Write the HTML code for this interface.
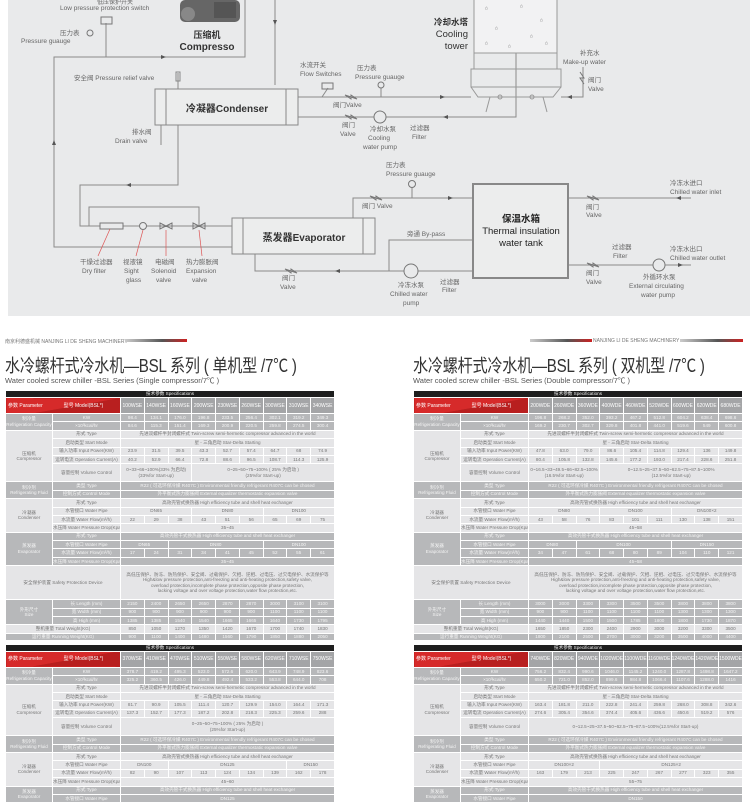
<!DOCTYPE html>
<html><head><meta charset="utf-8"><style>
*{margin:0;padding:0;box-sizing:border-box}
body{width:750px;height:794px;overflow:hidden;background:#fff;position:relative;font-family:"Liberation Sans","Noto Sans CJK SC",sans-serif}
#dg{position:absolute;left:0;top:0}
.hdr{position:absolute;font-size:5px;color:#777;white-space:nowrap}
.bar{position:absolute;height:3px;background:linear-gradient(90deg,#ccc,#555 60%,#c22)}
.t1{position:absolute;font-size:18px;color:#333;white-space:nowrap;letter-spacing:-0.3px;transform:scaleX(0.84);transform-origin:0 0}
.t2{position:absolute;font-size:7.5px;color:#555;white-space:nowrap}
table{position:absolute;border-collapse:collapse;table-layout:fixed;width:330px;font-size:4.6px;color:#777;text-align:center}
td{border:1px solid #fff;padding:0;line-height:6px;overflow:hidden;white-space:nowrap;height:8.4px}
tr.d td{background:#b7b8ba;color:#f4f4f4}
tr.l td{background:#e5e5e7}
tr.k td{background:#1e1e1e;color:#eee;height:7px}
tr.r td{background:#a4a5a7;color:#fff;height:16px;font-size:5px}
tr.r td.red{background:linear-gradient(170deg,#d62a2a 55%,#b81f1f 56%);text-align:left;padding-left:2px}
td.g{white-space:normal;line-height:5.5px}
</style></head><body>
<svg id="dg" width="750" height="320" viewBox="0 0 750 320" font-family="Liberation Sans, Noto Sans CJK SC, sans-serif">
<rect x="8" y="0" width="742" height="316" fill="#e9eaeb"/>
<g stroke="#8a8a8a" stroke-width="1" fill="none">
<polyline points="245,0 245,57 54,57 54,247 232,247"/>
<line x1="106" y1="57" x2="106" y2="23"/>
<line x1="275" y1="0" x2="275" y2="85"/>
<polyline points="298,97 471,97"/>
<polyline points="561,97 583,97 583,67"/>
<polyline points="298,117 516,117 516,0"/>
<line x1="322" y1="97" x2="328" y2="88"/>
<line x1="381" y1="97" x2="381" y2="88"/>
<polyline points="178,125 178,185 80,185 80,226 232,226"/>
<polyline points="89,226 89,207 199,207 199,226"/>
<polyline points="353,218 353,198 473,198"/>
<line x1="412" y1="198" x2="412" y2="187"/>
<polyline points="255,254 255,271 473,271"/>
<polyline points="389,271 389,240 473,240"/>
<line x1="568" y1="198" x2="691" y2="198"/>
<line x1="568" y1="265" x2="691" y2="265"/>
<line x1="178" y1="73" x2="178" y2="89"/>
<line x1="161" y1="125" x2="161" y2="145"/>
</g>
<g fill="#666"><rect x="180" y="0" width="60" height="22" rx="5"/><circle cx="188" cy="14" r="7" fill="#888"/><rect x="214" y="2" width="22" height="16" fill="#555"/></g>
<text x="207" y="38" font-size="9" font-weight="bold" fill="#333" text-anchor="middle">压缩机</text>
<text x="207" y="50" font-size="10" font-weight="bold" fill="#333" text-anchor="middle">Compresso</text>
<text x="115" y="4" font-size="6" fill="#666" text-anchor="middle">低压保护开关</text>
<text x="60" y="10" font-size="6.5" fill="#666">Low pressure protection switch</text>
<rect x="101" y="17" width="11" height="7" fill="none" stroke="#777"/>
<text x="60" y="35" font-size="6.5" fill="#666">压力表</text><circle cx="90" cy="33" r="3" fill="none" stroke="#777"/>
<text x="21" y="43" font-size="6.5" fill="#666">Pressure guauge</text>
<g fill="none" stroke="#999"><rect x="474" y="-2" width="83" height="55" fill="#f2f2f3"/><rect x="471" y="69" width="90" height="18"/><polyline points="471,87 478,97 553,97 561,87"/><line x1="474" y1="53" x2="474" y2="69"/><line x1="557" y1="53" x2="557" y2="69"/><line x1="490" y1="97" x2="486" y2="112"/><line x1="543" y1="97" x2="547" y2="112"/><circle cx="500" cy="97" r="2"/><circle cx="532" cy="97" r="2"/></g>
<g fill="#aaa" font-size="5"><text x="485" y="10">ó</text><text x="520" y="8">ó</text><text x="540" y="22">ó</text><text x="495" y="30">ó</text><text x="530" y="38">ó</text><text x="485" y="45">ó</text><text x="508" y="48">ó</text><text x="545" y="45">ó</text></g>
<text x="468" y="25" font-size="8.5" fill="#333" text-anchor="end" font-weight="bold">冷却水塔</text>
<text x="468" y="37" font-size="9.5" fill="#333" text-anchor="end">Cooling</text>
<text x="468" y="49" font-size="9.5" fill="#333" text-anchor="end">tower</text>
<text x="580" y="55" font-size="6.5" fill="#666">补充水</text>
<text x="563" y="64" font-size="6.5" fill="#666">Make-up water</text>
<text x="588" y="82" font-size="6.5" fill="#666">阀门</text><text x="588" y="91" font-size="6.5" fill="#666">Valve</text>
<rect x="155" y="89" width="143" height="36" fill="#eceded" stroke="#888"/>
<line x1="166" y1="89" x2="166" y2="125" stroke="#888"/><line x1="286" y1="89" x2="286" y2="125" stroke="#888"/>
<text x="227" y="112" font-size="10" fill="#333" text-anchor="middle" font-weight="bold">冷凝器Condenser</text>
<text x="74" y="80" font-size="6.5" fill="#666">安全阀 Pressure relief valve</text>
<rect x="176" y="72" width="4" height="9" fill="none" stroke="#888"/>
<text x="300" y="67" font-size="6.5" fill="#666">水流开关</text><text x="300" y="76" font-size="6.5" fill="#666">Flow Switches</text>
<rect x="322" y="83" width="11" height="6" fill="none" stroke="#777"/>
<text x="357" y="70" font-size="6.5" fill="#666">压力表</text><text x="355" y="79" font-size="6.5" fill="#666">Pressure guauge</text>
<circle cx="381" cy="85" r="3" fill="none" stroke="#777"/>
<text x="333" y="107" font-size="6.5" fill="#666">阀门Valve</text>
<text x="342" y="127" font-size="6.5" fill="#666">阀门</text><text x="340" y="136" font-size="6.5" fill="#666">Valve</text>
<circle cx="380" cy="117" r="6" fill="#e9eaeb" stroke="#777"/>
<text x="370" y="131" font-size="6.5" fill="#666">冷却水泵</text><text x="368" y="140" font-size="6.5" fill="#666">Cooling</text><text x="363" y="149" font-size="6.5" fill="#666">water pump</text>
<text x="410" y="130" font-size="6.5" fill="#666">过滤器</text><text x="412" y="139" font-size="6.5" fill="#666">Filter</text>
<text x="132" y="134" font-size="6.5" fill="#666">排水阀</text><text x="115" y="143" font-size="6.5" fill="#666">Drain valve</text>
<g fill="#555"><path d="M440,95 l5,2 -5,2z"/><path d="M448,115 l-5,2 5,2z"/><path d="M572,95 l-5,2 5,2z"/><path d="M52,145 l2,-5 2,5z"/><path d="M131,183 l-5,2 5,2z"/><path d="M161,55 l5,2 -5,2z"/><path d="M273,20 l2,5 2,-5z"/><path d="M448,196 l5,2 -5,2z"/><path d="M681,196 l-5,2 5,2z"/><path d="M340,269 l-5,2 5,2z"/><path d="M678,263 l5,2 -5,2z"/></g>
<g fill="none" stroke="#777"><path d="M345,95 l6,4 0,-4 6,4z"/><path d="M345,115 l6,4 0,-4 6,4z"/><path d="M370,196 l6,4 0,-4 6,4z"/><path d="M587,196 l6,4 0,-4 6,4z"/><path d="M587,263 l6,4 0,-4 6,4z"/><path d="M285,269 l6,4 0,-4 6,4z"/><path d="M580,72 l4,6 -4,0 4,6"/></g>
<rect x="232" y="218" width="143" height="36" fill="#eceded" stroke="#888"/>
<line x1="243" y1="218" x2="243" y2="254" stroke="#888"/><line x1="363" y1="218" x2="363" y2="254" stroke="#888"/>
<text x="304" y="241" font-size="10" fill="#333" text-anchor="middle" font-weight="bold">蒸发器Evaporator</text>
<text x="386" y="167" font-size="6.5" fill="#666">压力表</text><text x="386" y="176" font-size="6.5" fill="#666">Pressure guauge</text>
<circle cx="412" cy="184" r="3.5" fill="none" stroke="#777"/>
<text x="362" y="208" font-size="6.5" fill="#666">阀门 Valve</text>
<rect x="473" y="184" width="95" height="94" fill="#eceded" stroke="#888" stroke-width="2"/>
<text x="521" y="222" font-size="9.5" fill="#222" text-anchor="middle" font-weight="bold">保温水箱</text>
<text x="521" y="234" font-size="9.5" fill="#222" text-anchor="middle">Thermal insulation</text>
<text x="521" y="246" font-size="9.5" fill="#222" text-anchor="middle">water tank</text>
<text x="670" y="185" font-size="6.5" fill="#666">冷冻水进口</text><text x="670" y="194" font-size="6.5" fill="#666">Chilled water inlet</text>
<text x="586" y="209" font-size="6.5" fill="#666">阀门</text><text x="586" y="217" font-size="6.5" fill="#666">Valve</text>
<text x="407" y="236" font-size="6.5" fill="#666">旁通 By-pass</text>
<text x="612" y="249" font-size="6.5" fill="#666">过滤器</text><text x="613" y="258" font-size="6.5" fill="#666">Filter</text>
<text x="670" y="251" font-size="6.5" fill="#666">冷冻水出口</text><text x="670" y="260" font-size="6.5" fill="#666">Chilled water outlet</text>
<circle cx="659" cy="265" r="6" fill="#e9eaeb" stroke="#777"/>
<text x="643" y="279" font-size="6.5" fill="#666">外循环水泵</text><text x="629" y="288" font-size="6.5" fill="#666">External circulating</text><text x="641" y="297" font-size="6.5" fill="#666">water pump</text>
<text x="586" y="275" font-size="6.5" fill="#666">阀门</text><text x="586" y="284" font-size="6.5" fill="#666">Valve</text>
<circle cx="411" cy="271" r="7" fill="#e9eaeb" stroke="#777"/>
<text x="398" y="287" font-size="6.5" fill="#666">冷冻水泵</text><text x="390" y="296" font-size="6.5" fill="#666">Chilled water</text><text x="403" y="305" font-size="6.5" fill="#666">pump</text>
<text x="440" y="284" font-size="6.5" fill="#666">过滤器</text><text x="442" y="292" font-size="6.5" fill="#666">Filter</text>
<text x="282" y="280" font-size="6.5" fill="#666">阀门</text><text x="280" y="289" font-size="6.5" fill="#666">Valve</text>
<rect x="100" y="223" width="23" height="6" fill="#e9eaeb" stroke="#777"/>
<circle cx="143" cy="226" r="3.5" fill="#e9eaeb" stroke="#777"/>
<path d="M160,223 l6,3 -6,3z M172,223 l-6,3 6,3z M193,223 l6,3 -6,3z M205,223 l-6,3 6,3z" fill="none" stroke="#777"/>
<g stroke="#d55" stroke-width="0.7"><line x1="110" y1="229" x2="98" y2="256"/><line x1="143" y1="230" x2="136" y2="256"/><line x1="166" y1="230" x2="166" y2="256"/><line x1="199" y1="230" x2="202" y2="256"/></g>
<g font-size="6.5" fill="#666"><text x="80" y="264">干燥过滤器</text><text x="82" y="273">Dry filter</text>
<text x="123" y="264">视液镜</text><text x="124" y="273">Sight</text><text x="126" y="282">glass</text>
<text x="155" y="264">电磁阀</text><text x="151" y="273">Solenoid</text><text x="156" y="282">valve</text>
<text x="186" y="264">热力膨胀阀</text><text x="186" y="273">Expansion</text><text x="192" y="282">valve</text></g>
</svg>

<div class="hdr" style="left:5px;top:338px">南京利德盛机械 NANJING LI DE SHENG MACHINERY</div>
<div class="bar" style="left:125px;top:339px;width:62px"></div>
<div class="bar" style="left:530px;top:339px;width:62px"></div>
<div class="hdr" style="left:593px;top:338px">NANJING LI DE SHENG MACHINERY</div>
<div class="bar" style="left:680px;top:339px;width:63px"></div>
<div class="t1" style="left:5px;top:352px">水冷螺杆式冷水机—BSL 系列 ( 单机型 /7℃ )</div>
<div class="t2" style="left:5px;top:375px">Water cooled screw chiller -BSL Series (Single compressor/7℃ )</div>
<div class="t1" style="left:413px;top:352px">水冷螺杆式冷水机—BSL 系列 ( 双机型 /7℃ )</div>
<div class="t2" style="left:413px;top:375px">Water cooled screw chiller -BSL Series (Double compressor/7℃ )</div>

<table style="left:5px;top:390px">
<colgroup><col style="width:47px"><col style="width:68px"><col span="9"></colgroup>
<tr class="k"><td colspan="11">技术参数 Specifications</td></tr>
<tr class="r"><td class="red" colspan="2">参数 Parameter &nbsp;&nbsp;&nbsp;&nbsp;&nbsp;&nbsp;&nbsp;&nbsp;&nbsp;&nbsp;&nbsp;&nbsp;&nbsp;&nbsp;型号 Model(BSL*)</td><td>100WSE</td><td>140WSE</td><td>160WSE</td><td>200WSE</td><td>230WSE</td><td>260WSE</td><td>300WSE</td><td>310WSE</td><td>340WSE</td></tr>
<tr class="d"><td rowspan="2" class="g">制冷量<br>Refrigeration Capacity</td><td>KW</td><td>98.4</td><td>134.1</td><td>176.0</td><td>196.8</td><td>233.5</td><td>256.4</td><td>302.1</td><td>319.2</td><td>349.3</td></tr>
<tr class="d"><td>×10³kcal/hr</td><td>84.6</td><td>115.3</td><td>151.4</td><td>169.3</td><td>200.9</td><td>220.5</td><td>259.8</td><td>274.5</td><td>300.4</td></tr>
<tr class="l"><td rowspan="5" class="g">压缩机<br>Compressor</td><td>形式 Type</td><td colspan="9">先进双螺杆半封闭螺杆式 Twin-screw semi-hermetic compressor advanced in the world</td></tr>
<tr class="l"><td>启动类型 Start Mode</td><td colspan="9">星 - 三角启动 Star-Delta Starting</td></tr>
<tr class="l"><td>输入功率 Input Power(KW)</td><td>23.9</td><td>31.5</td><td>39.5</td><td>43.3</td><td>52.7</td><td>57.4</td><td>64.7</td><td>68</td><td>74.9</td></tr>
<tr class="l"><td>运转电流 Operation Current(A)</td><td>40.2</td><td>52.9</td><td>66.4</td><td>72.8</td><td>88.6</td><td>96.5</td><td>108.7</td><td>114.3</td><td>125.9</td></tr>
<tr class="l"><td style="height:18px">容量控制 Volume Control</td><td colspan="3" class="g">0~33~66~100%(33% 为启动)<br>(33%for Start-up)</td><td colspan="6" class="g">0~25~50~75~100% ( 25% 为启动 )<br>(25%for Start-up)</td></tr>
<tr class="d"><td rowspan="2" class="g">制冷剂<br>Refrigerating Fluid</td><td>类型 Type</td><td colspan="9">R22 ( 可选环保冷媒 R407C ) Environmental friendly refrigerant R407C can be chosed</td></tr>
<tr class="d"><td>控制方式 Control Mode</td><td colspan="9">外平衡式热力膨胀阀 External equalizer thermostatic expansion valve</td></tr>
<tr class="l"><td rowspan="4" class="g">冷凝器<br>Condenser</td><td>形式 Type</td><td colspan="9">高效壳管式换热器 High efficiency tube and shell heat exchanger</td></tr>
<tr class="l"><td>水管接口 Water Pipe</td><td colspan="3">DN65</td><td colspan="3">DN80</td><td colspan="3">DN100</td></tr>
<tr class="l"><td>水流量 Water Flow(m³/h)</td><td>22</td><td>29</td><td>38</td><td>43</td><td>51</td><td>56</td><td>65</td><td>69</td><td>75</td></tr>
<tr class="l"><td>水压降 Water Pressure Drop(Kpa)</td><td colspan="9">35~45</td></tr>
<tr class="d"><td rowspan="4" class="g">蒸发器<br>Evaporator</td><td>形式 Type</td><td colspan="9">高效壳管干式换热器 High efficiency tube and shell heat exchanger</td></tr>
<tr class="d"><td>水管接口 Water Pipe</td><td colspan="2">DN65</td><td colspan="4">DN80</td><td colspan="3">DN100</td></tr>
<tr class="d"><td>水流量 Water Flow(m³/h)</td><td>17</td><td>24</td><td>31</td><td>34</td><td>41</td><td>45</td><td>52</td><td>55</td><td>61</td></tr>
<tr class="d"><td>水压降 Water Pressure Drop(Kpa)</td><td colspan="9">35~45</td></tr>
<tr class="l"><td colspan="2" style="height:34px">安全保护装置 Safety Protection Device</td><td colspan="9" class="g">高低压保护、防冻、防热保护、安全阀、过载保护、欠相、逆相、过电压、过欠电保护、水流保护等<br>High&amp;low pressure protection,anti-freezing and anti-heating protection,safety valve,<br>overload protection,incomplete phase protection,opposite phase protection,<br>lacking voltage and over voltage protection,water flow protection,etc.</td></tr>
<tr class="d"><td rowspan="3" class="g">外形尺寸<br>Size</td><td>长 Length (mm)</td><td>2150</td><td>2400</td><td>2650</td><td>2650</td><td>2870</td><td>2870</td><td>3000</td><td>3100</td><td>3100</td></tr>
<tr class="d"><td>宽 Width (mm)</td><td>900</td><td>900</td><td>900</td><td>900</td><td>900</td><td>900</td><td>1100</td><td>1100</td><td>1100</td></tr>
<tr class="d"><td>高 High (mm)</td><td>1385</td><td>1385</td><td>1540</td><td>1540</td><td>1665</td><td>1665</td><td>1640</td><td>1730</td><td>1795</td></tr>
<tr class="l"><td colspan="2">整机重量 Total Weight(KG)</td><td>850</td><td>1050</td><td>1270</td><td>1350</td><td>1420</td><td>1670</td><td>1700</td><td>1740</td><td>1830</td></tr>
<tr class="d"><td colspan="2">运行重量 Running Weight(KG)</td><td>900</td><td>1100</td><td>1400</td><td>1480</td><td>1560</td><td>1790</td><td>1850</td><td>1880</td><td>2050</td></tr>
<tr class="k"><td colspan="11" style="border-top:5px solid #fff">技术参数 Specifications</td></tr>
<tr class="r"><td class="red" colspan="2">参数 Parameter &nbsp;&nbsp;&nbsp;&nbsp;&nbsp;&nbsp;&nbsp;&nbsp;&nbsp;&nbsp;&nbsp;&nbsp;&nbsp;&nbsp;型号 Model(BSL*)</td><td>370WSE</td><td>410WSE</td><td>470WSE</td><td>510WSE</td><td>550WSE</td><td>580WSE</td><td>620WSE</td><td>710WSE</td><td>750WSE</td></tr>
<tr class="d"><td rowspan="2" class="g">制冷量<br>Refrigeration Capacity</td><td>KW</td><td>378.7</td><td>419.2</td><td>495.3</td><td>523.0</td><td>572.6</td><td>620.0</td><td>643.9</td><td>748.9</td><td>823.6</td></tr>
<tr class="d"><td>×10³kcal/hr</td><td>325.2</td><td>360.5</td><td>426.0</td><td>449.8</td><td>492.4</td><td>533.2</td><td>553.8</td><td>644.0</td><td>708</td></tr>
<tr class="l"><td rowspan="5" class="g">压缩机<br>Compressor</td><td>形式 Type</td><td colspan="9">先进双螺杆半封闭螺杆式 Twin-screw semi-hermetic compressor advanced in the world</td></tr>
<tr class="l"><td>启动类型 Start Mode</td><td colspan="9">星 - 三角启动 Star-Delta Starting</td></tr>
<tr class="l"><td>输入功率 Input Power(KW)</td><td>81.7</td><td>90.9</td><td>105.5</td><td>111.4</td><td>120.7</td><td>129.9</td><td>154.0</td><td>164.4</td><td>171.3</td></tr>
<tr class="l"><td>运转电流 Operation Current(A)</td><td>137.3</td><td>152.7</td><td>177.3</td><td>187.2</td><td>202.8</td><td>218.3</td><td>225.3</td><td>259.6</td><td>288</td></tr>
<tr class="l"><td style="height:18px">容量控制 Volume Control</td><td colspan="9" class="g">0~25~50~75~100% ( 25% 为启动 )<br>(25%for Start-up)</td></tr>
<tr class="d"><td rowspan="2" class="g">制冷剂<br>Refrigerating Fluid</td><td>类型 Type</td><td colspan="9">R22 ( 可选环保冷媒 R407C ) Environmental friendly refrigerant R407C can be chosed</td></tr>
<tr class="d"><td>控制方式 Control Mode</td><td colspan="9">外平衡式热力膨胀阀 External equalizer thermostatic expansion valve</td></tr>
<tr class="l"><td rowspan="4" class="g">冷凝器<br>Condenser</td><td>形式 Type</td><td colspan="9">高效壳管式换热器 High efficiency tube and shell heat exchanger</td></tr>
<tr class="l"><td>水管接口 Water Pipe</td><td colspan="2">DN100</td><td colspan="5">DN125</td><td colspan="2">DN150</td></tr>
<tr class="l"><td>水流量 Water Flow(m³/h)</td><td>82</td><td>90</td><td>107</td><td>113</td><td>124</td><td>134</td><td>139</td><td>162</td><td>178</td></tr>
<tr class="l"><td>水压降 Water Pressure Drop(Kpa)</td><td colspan="9">45~60</td></tr>
<tr class="d"><td rowspan="2" class="g">蒸发器<br>Evaporator</td><td>形式 Type</td><td colspan="9">高效壳管干式换热器 High efficiency tube and shell heat exchanger</td></tr>
<tr class="d"><td>水管接口 Water Pipe</td><td colspan="9">DN125</td></tr>
</table>

<table style="left:413px;top:390px">
<colgroup><col style="width:47px"><col style="width:68px"><col span="9"></colgroup>
<tr class="k"><td colspan="11">技术参数 Specifications</td></tr>
<tr class="r"><td class="red" colspan="2">参数 Parameter &nbsp;&nbsp;&nbsp;&nbsp;&nbsp;&nbsp;&nbsp;&nbsp;&nbsp;&nbsp;&nbsp;&nbsp;&nbsp;&nbsp;型号 Model(BSL*)</td><td>200WDE</td><td>260WDE</td><td>360WDE</td><td>400WDE</td><td>460WDE</td><td>520WDE</td><td>600WDE</td><td>620WDE</td><td>680WDE</td></tr>
<tr class="d"><td rowspan="2" class="g">制冷量<br>Refrigeration Capacity</td><td>KW</td><td>196.8</td><td>268.2</td><td>352.0</td><td>393.2</td><td>467.2</td><td>512.8</td><td>604.2</td><td>638.4</td><td>698.6</td></tr>
<tr class="d"><td>×10³kcal/hr</td><td>169.2</td><td>230.7</td><td>302.7</td><td>329.8</td><td>401.8</td><td>441.0</td><td>519.6</td><td>549</td><td>600.8</td></tr>
<tr class="l"><td rowspan="5" class="g">压缩机<br>Compressor</td><td>形式 Type</td><td colspan="9">先进双螺杆半封闭螺杆式 Twin-screw semi-hermetic compressor advanced in the world</td></tr>
<tr class="l"><td>启动类型 Start Mode</td><td colspan="9">星 - 三角启动 Star-Delta Starting</td></tr>
<tr class="l"><td>输入功率 Input Power(KW)</td><td>47.8</td><td>63.0</td><td>79.0</td><td>86.6</td><td>105.4</td><td>114.8</td><td>129.4</td><td>136</td><td>149.8</td></tr>
<tr class="l"><td>运转电流 Operation Current(A)</td><td>80.4</td><td>105.8</td><td>132.8</td><td>145.6</td><td>177.2</td><td>193.0</td><td>217.4</td><td>228.6</td><td>251.8</td></tr>
<tr class="l"><td style="height:18px">容量控制 Volume Control</td><td colspan="3" class="g">0~16.5~33~49.5~66~82.5~100%<br>(16.5%for Start-up)</td><td colspan="6" class="g">0~12.5~25~37.5~50~62.5~75~87.5~100%<br>(12.5%for Start-up)</td></tr>
<tr class="d"><td rowspan="2" class="g">制冷剂<br>Refrigerating Fluid</td><td>类型 Type</td><td colspan="9">R22 ( 可选环保冷媒 R407C ) Environmental friendly refrigerant R407C can be chosed</td></tr>
<tr class="d"><td>控制方式 Control Mode</td><td colspan="9">外平衡式热力膨胀阀 External equalizer thermostatic expansion valve</td></tr>
<tr class="l"><td rowspan="4" class="g">冷凝器<br>Condenser</td><td>形式 Type</td><td colspan="9">高效壳管式换热器 High efficiency tube and shell heat exchanger</td></tr>
<tr class="l"><td>水管接口 Water Pipe</td><td colspan="3">DN80</td><td colspan="3">DN100</td><td colspan="3">DN100×2</td></tr>
<tr class="l"><td>水流量 Water Flow(m³/h)</td><td>43</td><td>58</td><td>76</td><td>83</td><td>101</td><td>111</td><td>130</td><td>138</td><td>151</td></tr>
<tr class="l"><td>水压降 Water Pressure Drop(Kpa)</td><td colspan="9">45~58</td></tr>
<tr class="d"><td rowspan="4" class="g">蒸发器<br>Evaporator</td><td>形式 Type</td><td colspan="9">高效壳管干式换热器 High efficiency tube and shell heat exchanger</td></tr>
<tr class="d"><td>水管接口 Water Pipe</td><td colspan="2">DN80</td><td colspan="4">DN100</td><td colspan="3">DN150</td></tr>
<tr class="d"><td>水流量 Water Flow(m³/h)</td><td>34</td><td>47</td><td>61</td><td>68</td><td>80</td><td>89</td><td>104</td><td>110</td><td>121</td></tr>
<tr class="d"><td>水压降 Water Pressure Drop(Kpa)</td><td colspan="9">45~58</td></tr>
<tr class="l"><td colspan="2" style="height:34px">安全保护装置 Safety Protection Device</td><td colspan="9" class="g">高低压保护、防冻、防热保护、安全阀、过载保护、欠相、逆相、过电压、过欠电保护、水流保护等<br>High&amp;low pressure protection,anti-freezing and anti-heating protection,safety valve,<br>overload protection,incomplete phase protection,opposite phase protection,<br>lacking voltage and over voltage protection,water flow protection,etc.</td></tr>
<tr class="d"><td rowspan="3" class="g">外形尺寸<br>Size</td><td>长 Length (mm)</td><td>3000</td><td>3000</td><td>3300</td><td>3300</td><td>3500</td><td>3500</td><td>3800</td><td>3800</td><td>3800</td></tr>
<tr class="d"><td>宽 Width (mm)</td><td>900</td><td>900</td><td>1100</td><td>1100</td><td>1100</td><td>1100</td><td>1300</td><td>1300</td><td>1300</td></tr>
<tr class="d"><td>高 High (mm)</td><td>1440</td><td>1440</td><td>1500</td><td>1500</td><td>1785</td><td>1800</td><td>1800</td><td>1730</td><td>1870</td></tr>
<tr class="l"><td colspan="2">整机重量 Total Weight(KG)</td><td>1650</td><td>1850</td><td>2300</td><td>2400</td><td>2900</td><td>3000</td><td>3200</td><td>3300</td><td>3500</td></tr>
<tr class="d"><td colspan="2">运行重量 Running Weight(KG)</td><td>1800</td><td>2100</td><td>2500</td><td>2700</td><td>3000</td><td>3200</td><td>3500</td><td>4000</td><td>4400</td></tr>
<tr class="k"><td colspan="11" style="border-top:5px solid #fff">技术参数 Specifications</td></tr>
<tr class="r"><td class="red" colspan="2">参数 Parameter &nbsp;&nbsp;&nbsp;&nbsp;&nbsp;&nbsp;&nbsp;&nbsp;&nbsp;&nbsp;&nbsp;&nbsp;&nbsp;&nbsp;型号 Model(BSL*)</td><td>740WDE</td><td>820WDE</td><td>940WDE</td><td>1020WDE</td><td>1100WDE</td><td>1160WDE</td><td>1240WDE</td><td>1420WDE</td><td>1500WDE</td></tr>
<tr class="d"><td rowspan="2" class="g">制冷量<br>Refrigeration Capacity</td><td>KW</td><td>756.2</td><td>832.4</td><td>990.6</td><td>1046.0</td><td>1145.2</td><td>1240.0</td><td>1287.8</td><td>1498.8</td><td>1647.2</td></tr>
<tr class="d"><td>×10³kcal/hr</td><td>650.2</td><td>721.0</td><td>852.0</td><td>899.6</td><td>984.8</td><td>1066.4</td><td>1107.6</td><td>1288.0</td><td>1416</td></tr>
<tr class="l"><td rowspan="5" class="g">压缩机<br>Compressor</td><td>形式 Type</td><td colspan="9">先进双螺杆半封闭螺杆式 Twin-screw semi-hermetic compressor advanced in the world</td></tr>
<tr class="l"><td>启动类型 Start Mode</td><td colspan="9">星 - 三角启动 Star-Delta Starting</td></tr>
<tr class="l"><td>输入功率 Input Power(KW)</td><td>163.4</td><td>181.8</td><td>211.0</td><td>222.8</td><td>241.4</td><td>259.8</td><td>268.0</td><td>308.8</td><td>342.6</td></tr>
<tr class="l"><td>运转电流 Operation Current(A)</td><td>274.6</td><td>305.4</td><td>354.6</td><td>374.4</td><td>405.6</td><td>436.6</td><td>450.6</td><td>519.2</td><td>576</td></tr>
<tr class="l"><td style="height:18px">容量控制 Volume Control</td><td colspan="9" class="g">0~12.5~25~37.5~50~62.5~75~87.5~100%(12.5%for Start-up)</td></tr>
<tr class="d"><td rowspan="2" class="g">制冷剂<br>Refrigerating Fluid</td><td>类型 Type</td><td colspan="9">R22 ( 可选环保冷媒 R407C ) Environmental friendly refrigerant R407C can be chosed</td></tr>
<tr class="d"><td>控制方式 Control Mode</td><td colspan="9">外平衡式热力膨胀阀 External equalizer thermostatic expansion valve</td></tr>
<tr class="l"><td rowspan="4" class="g">冷凝器<br>Condenser</td><td>形式 Type</td><td colspan="9">高效壳管式换热器 High efficiency tube and shell heat exchanger</td></tr>
<tr class="l"><td>水管接口 Water Pipe</td><td colspan="3">DN100×2</td><td colspan="6">DN125×2</td></tr>
<tr class="l"><td>水流量 Water Flow(m³/h)</td><td>163</td><td>179</td><td>213</td><td>225</td><td>247</td><td>267</td><td>277</td><td>323</td><td>355</td></tr>
<tr class="l"><td>水压降 Water Pressure Drop(Kpa)</td><td colspan="9">55~75</td></tr>
<tr class="d"><td rowspan="2" class="g">蒸发器<br>Evaporator</td><td>形式 Type</td><td colspan="9">高效壳管干式换热器 High efficiency tube and shell heat exchanger</td></tr>
<tr class="d"><td>水管接口 Water Pipe</td><td colspan="9">DN150</td></tr>
</table>
</body></html>
